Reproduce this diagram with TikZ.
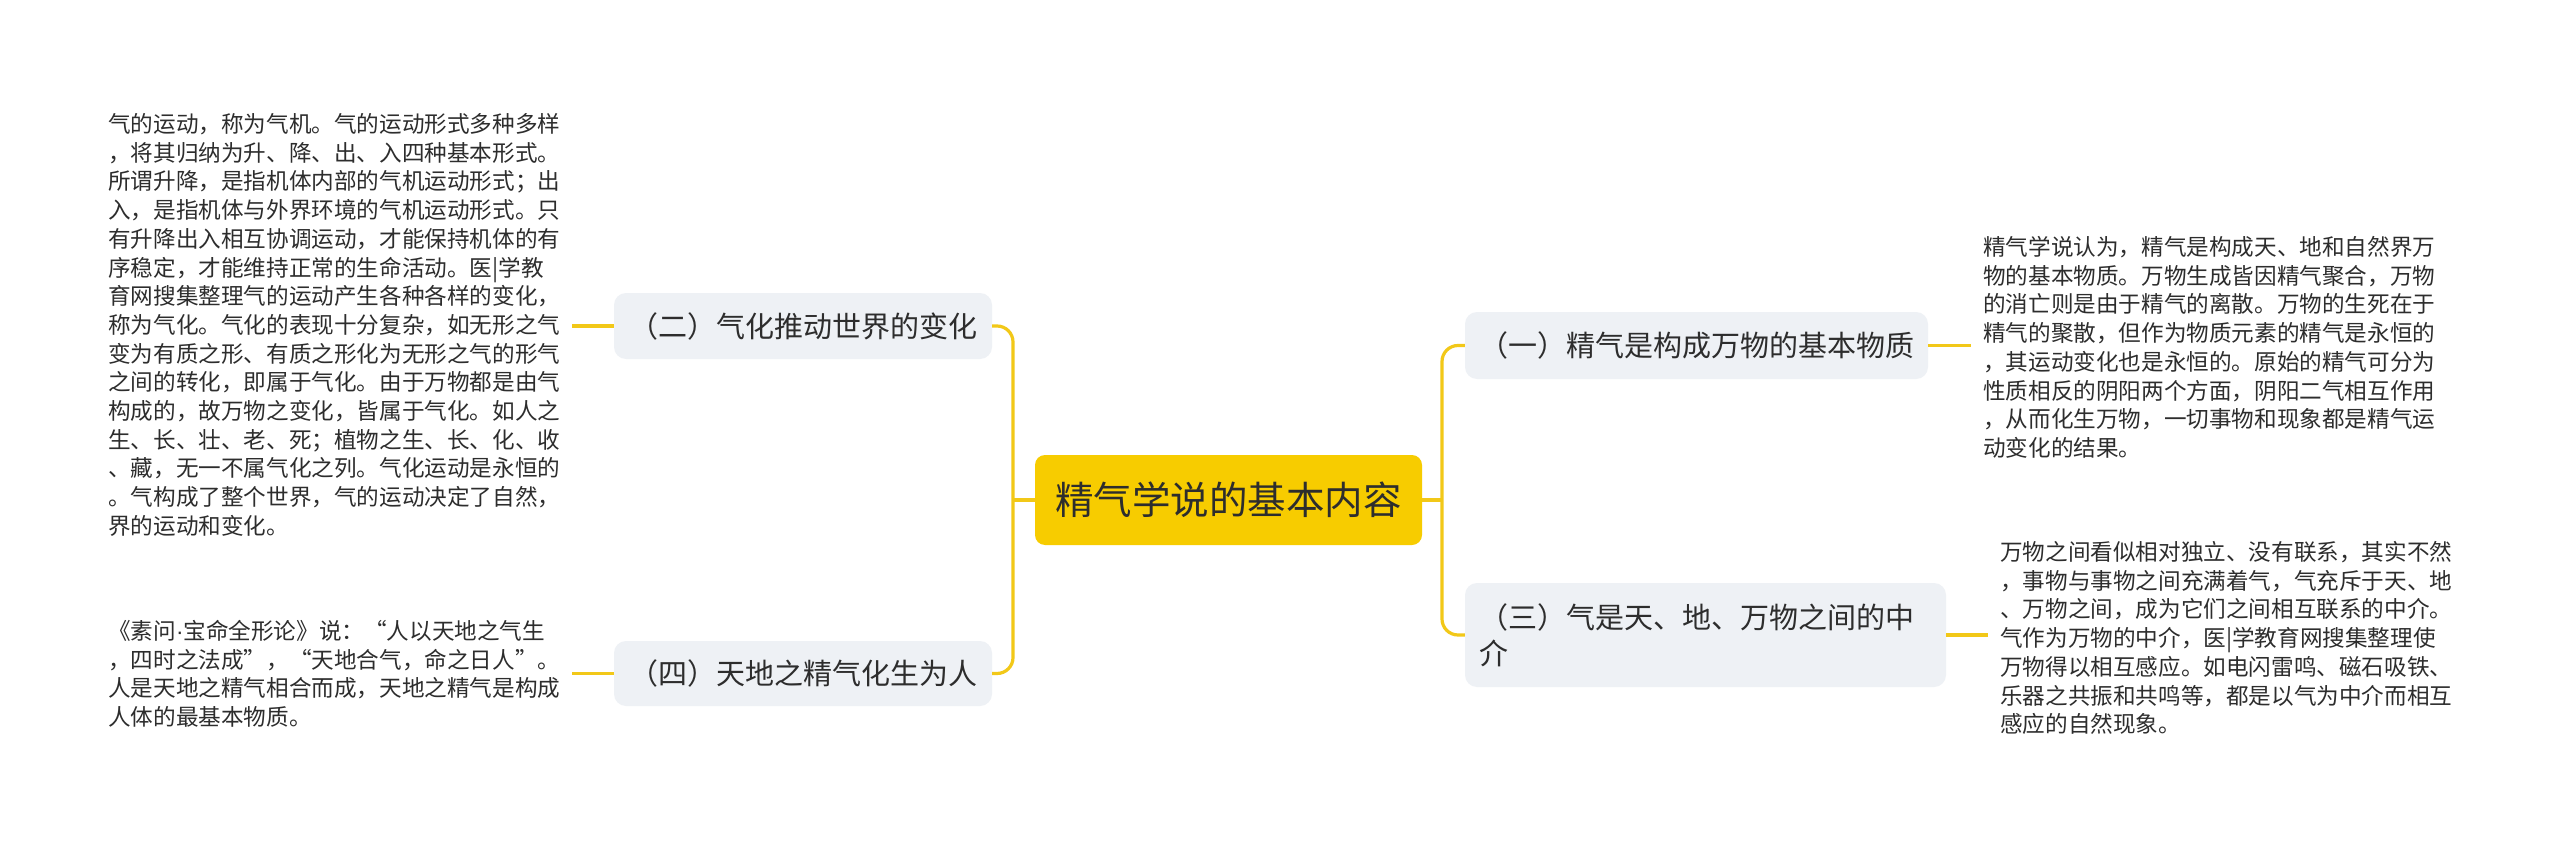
\documentclass[tikz,border=0pt]{standalone}
\usepackage{fontspec}
\setmainfont{Noto Sans CJK SC}
\newfontfamily\dotfont{Liberation Sans}
\definecolor{linkc}{RGB}{242,200,24}
\definecolor{rootfill}{RGB}{247,204,0}
\definecolor{nodefill}{RGB}{238,241,245}
\definecolor{txt}{RGB}{45,45,45}
\newcommand{\fwq}[1]{{\addfontfeatures{CharacterWidth=Full}#1}}
\newcommand{\leafstrut}{\rule{0pt}{0.9em}}
\tikzset{
  rootnode/.style={fill=rootfill, rounded corners=10, minimum width=387, minimum height=90,
    inner sep=0, text=txt, font=\fontsize{38.5}{46}\selectfont},
  branch/.style={fill=nodefill, rounded corners=12, inner sep=0, text=txt,
    font=\fontsize{29}{36}\selectfont},
  leaf/.style={anchor=north west, inner sep=0, text width=470, align=left, text=txt,
    font=\fontsize{22.6}{28.7}\selectfont},
  link/.style={draw=linkc, line width=3.2, rounded corners=16}
}
\begin{document}
\begin{tikzpicture}[x=1pt,y=-1pt]
\fill[white] (0,0) rectangle (2560,845);
\useasboundingbox (0,0) rectangle (2560,845);

% central node
\node[rootnode] (root) at (1228.5,500) {精气学说的基本内容};

% branch nodes
\node[branch, minimum width=378, minimum height=66] (n2) at (803,326) {（二）气化推动世界的变化};
\node[branch, minimum width=378, minimum height=65] (n4) at (803,673.5) {（四）天地之精气化生为人};
\node[branch, minimum width=463, minimum height=67] (n1) at (1696.5,345.5) {（一）精气是构成万物的基本物质};
\node[branch, minimum width=481, minimum height=104, text width=453, align=left, inner xsep=14] (n3) at (1705.5,635) {（三）气是天、地、万物之间的中\\介};

% leaf texts
\node[leaf] (t2) at (108,112) {\leafstrut 气的运动，称为气机。气的运动形式多种多样\\
，将其归纳为升、降、出、入四种基本形式。\\
所谓升降，是指机体内部的气机运动形式；出\\
入，是指机体与外界环境的气机运动形式。只\\
有升降出入相互协调运动，才能保持机体的有\\
序稳定，才能维持正常的生命活动。医|学教\\
育网搜集整理气的运动产生各种各样的变化，\\
称为气化。气化的表现十分复杂，如无形之气\\
变为有质之形、有质之形化为无形之气的形气\\
之间的转化，即属于气化。由于万物都是由气\\
构成的，故万物之变化，皆属于气化。如人之\\
生、长、壮、老、死；植物之生、长、化、收\\
、藏，无一不属气化之列。气化运动是永恒的\\
。气构成了整个世界，气的运动决定了自然，\\
界的运动和变化。};

\node[leaf] (t4) at (108,619) {\leafstrut 《素问{\dotfont ·}宝命全形论》说：\fwq{“}人以天地之气生\\
，四时之法成\fwq{”}，\fwq{“}天地合气，命之日人\fwq{”}。\\
人是天地之精气相合而成，天地之精气是构成\\
人体的最基本物质。};

\node[leaf] (t1) at (1983,235) {\leafstrut 精气学说认为，精气是构成天、地和自然界万\\
物的基本物质。万物生成皆因精气聚合，万物\\
的消亡则是由于精气的离散。万物的生死在于\\
精气的聚散，但作为物质元素的精气是永恒的\\
，其运动变化也是永恒的。原始的精气可分为\\
性质相反的阴阳两个方面，阴阳二气相互作用\\
，从而化生万物，一切事物和现象都是精气运\\
动变化的结果。};

\node[leaf] (t3) at (2000,540) {\leafstrut 万物之间看似相对独立、没有联系，其实不然\\
，事物与事物之间充满着气，气充斥于天、地\\
、万物之间，成为它们之间相互联系的中介。\\
气作为万物的中介，医|学教育网搜集整理使\\
万物得以相互感应。如电闪雷鸣、磁石吸铁、\\
乐器之共振和共鸣等，都是以气为中介而相互\\
感应的自然现象。};

% junctions and connector ends
\coordinate (lj) at (1013,500);
\coordinate (rj) at (1442,500);
\coordinate (e2) at (572,326);
\coordinate (e4) at (572,673.5);
\coordinate (e1) at (1971,345.5);
\coordinate (e3) at (1988,635);

\draw[link] (root.west) -- (lj);
\draw[link] (n2.east) -| (lj) |- (n4.east);
\draw[link] (root.east) -- (rj);
\draw[link] (n1.west) -| (rj) |- (n3.west);

\draw[link] (n2.west) -- (e2);
\draw[link] (n4.west) -- (e4);
\draw[link] (n1.east) -- (e1);
\draw[link] (n3.east) -- (e3);
\end{tikzpicture}
\end{document}
